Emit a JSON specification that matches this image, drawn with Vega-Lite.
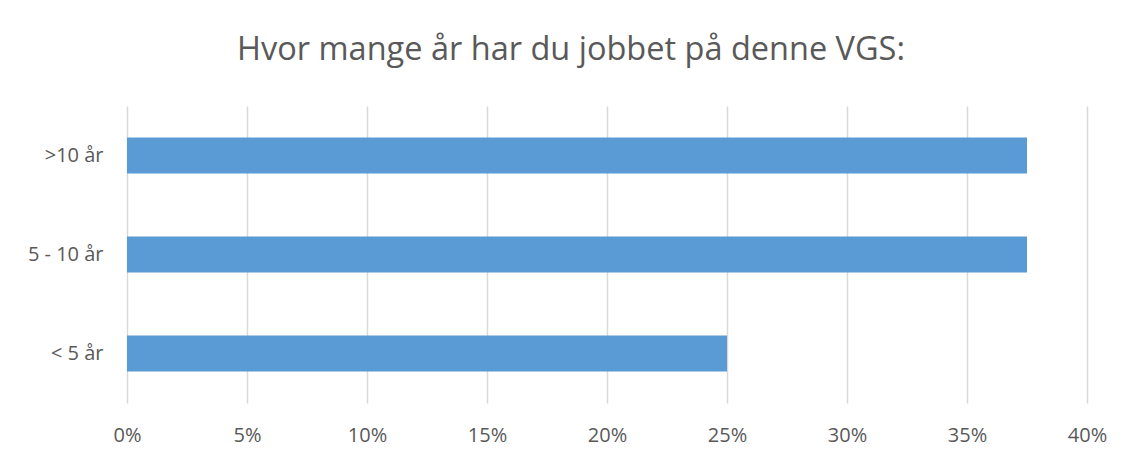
{
  "$schema": "https://vega.github.io/schema/vega-lite/v6.json",
  "width": 960,
  "height": 297,
  "autosize": {"type": "none"},
  "padding": {"left": 127, "top": 106, "right": 40, "bottom": 58},
  "background": "white",
  "title": {
    "text": "Hvor mange år har du jobbet på denne VGS:",
    "font": "Open Sans",
    "fontSize": 32.5,
    "fontWeight": "normal",
    "color": "#595959",
    "anchor": "middle",
    "frame": "group",
    "baseline": "alphabetic",
    "offset": 14,
    "dx": -36
  },
  "data": {
    "values": [
      {"kategori": ">10 år", "andel": 0.375},
      {"kategori": "5 - 10 år", "andel": 0.375},
      {"kategori": "< 5 år", "andel": 0.25}
    ]
  },
  "mark": {"type": "bar", "color": "#5b9bd5"},
  "encoding": {
    "y": {
      "field": "kategori",
      "type": "nominal",
      "sort": [">10 år", "5 - 10 år", "< 5 år"],
      "scale": {"paddingInner": 0.636, "paddingOuter": 0.318},
      "axis": {
        "title": null,
        "domain": false,
        "ticks": false,
        "labelPadding": 24,
        "labelFont": "Open Sans",
        "labelFontSize": 20,
        "labelColor": "#595959"
      }
    },
    "x": {
      "field": "andel",
      "type": "quantitative",
      "scale": {"domain": [0, 0.4], "nice": false},
      "axis": {
        "title": null,
        "format": ".0%",
        "values": [0, 0.05, 0.1, 0.15, 0.2, 0.25, 0.3, 0.35, 0.4],
        "domain": false,
        "ticks": false,
        "grid": true,
        "gridColor": "#d9d9d9",
        "gridWidth": 1.5,
        "labelFlush": false,
        "labelOverlap": false,
        "labelPadding": 32,
        "labelBaseline": "middle",
        "labelFont": "Open Sans",
        "labelFontSize": 20,
        "labelColor": "#595959"
      }
    }
  },
  "config": {"view": {"stroke": null}}
}
